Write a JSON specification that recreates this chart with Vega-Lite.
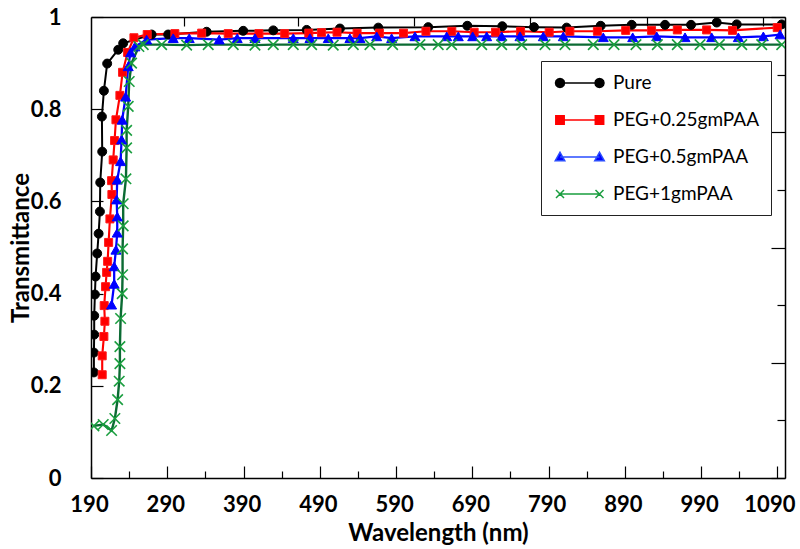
{
  "$schema": "https://vega.github.io/schema/vega-lite/v6.json",
  "autosize": {"type": "none"},
  "width": 694,
  "height": 461,
  "padding": {"left": 91, "top": 17, "right": 15, "bottom": 71},
  "background": "white",
  "config": {
    "view": {"stroke": null},
    "axis": {"grid": false, "domainColor": "#000", "domainWidth": 1.5, "tickColor": "#000", "tickWidth": 1.2,
      "labelFont": "Lato", "labelFontWeight": "bold", "labelFontSize": 22, "labelColor": "#000",
      "titleFont": "Lato", "titleFontWeight": "bold", "titleFontSize": 24, "titleColor": "#000"},
    "legend": {"labelFont": "Lato", "labelFontSize": 19, "labelColor": "#000", "strokeColor": "#222",
      "padding": 11, "rowPadding": 16, "symbolSize": 400, "symbolStrokeWidth": 1.5, "labelOffset": 39, "labelLimit": 400}
  },
  "data": {"values": [
    {"s":"Pure","w":193.8,"t":0.229},{"s":"Pure","w":193.8,"t":0.272},{"s":"Pure","w":194.2,"t":0.311},{"s":"Pure","w":194.2,"t":0.352},
    {"s":"Pure","w":195.1,"t":0.398},{"s":"Pure","w":196.0,"t":0.437},{"s":"Pure","w":198.1,"t":0.487},{"s":"Pure","w":200.0,"t":0.530},
    {"s":"Pure","w":201.7,"t":0.578},{"s":"Pure","w":202.1,"t":0.641},{"s":"Pure","w":204.7,"t":0.708},{"s":"Pure","w":204.3,"t":0.784},
    {"s":"Pure","w":206.9,"t":0.840},{"s":"Pure","w":211.2,"t":0.899},{"s":"Pure","w":225.7,"t":0.929},{"s":"Pure","w":232.2,"t":0.943},
    {"s":"Pure","w":269.5,"t":0.962},{"s":"Pure","w":291.2,"t":0.962},{"s":"Pure","w":341.6,"t":0.968},{"s":"Pure","w":389.6,"t":0.970},
    {"s":"Pure","w":429.0,"t":0.971},{"s":"Pure","w":472.8,"t":0.972},{"s":"Pure","w":516.4,"t":0.975},{"s":"Pure","w":566.7,"t":0.977},
    {"s":"Pure","w":632.2,"t":0.978},{"s":"Pure","w":683.4,"t":0.981},{"s":"Pure","w":729.3,"t":0.980},{"s":"Pure","w":770.9,"t":0.978},
    {"s":"Pure","w":813.7,"t":0.977},{"s":"Pure","w":858.3,"t":0.981},{"s":"Pure","w":899.0,"t":0.983},{"s":"Pure","w":942.7,"t":0.983},
    {"s":"Pure","w":976.8,"t":0.983},{"s":"Pure","w":1010.5,"t":0.988},{"s":"Pure","w":1036.7,"t":0.984},{"s":"Pure","w":1095.7,"t":0.984},

    {"s":"PEG+0.25gmPAA","w":204.7,"t":0.224},{"s":"PEG+0.25gmPAA","w":204.7,"t":0.265},{"s":"PEG+0.25gmPAA","w":206.9,"t":0.307},
    {"s":"PEG+0.25gmPAA","w":208.2,"t":0.340},{"s":"PEG+0.25gmPAA","w":207.3,"t":0.374},{"s":"PEG+0.25gmPAA","w":209.1,"t":0.415},
    {"s":"PEG+0.25gmPAA","w":210.5,"t":0.446},{"s":"PEG+0.25gmPAA","w":211.8,"t":0.470},{"s":"PEG+0.25gmPAA","w":213.1,"t":0.511},
    {"s":"PEG+0.25gmPAA","w":214.8,"t":0.562},{"s":"PEG+0.25gmPAA","w":217.4,"t":0.615},{"s":"PEG+0.25gmPAA","w":217.0,"t":0.645},
    {"s":"PEG+0.25gmPAA","w":219.1,"t":0.690},{"s":"PEG+0.25gmPAA","w":220.9,"t":0.732},{"s":"PEG+0.25gmPAA","w":222.7,"t":0.777},
    {"s":"PEG+0.25gmPAA","w":227.9,"t":0.830},{"s":"PEG+0.25gmPAA","w":231.4,"t":0.880},{"s":"PEG+0.25gmPAA","w":238.0,"t":0.923},
    {"s":"PEG+0.25gmPAA","w":246.3,"t":0.955},{"s":"PEG+0.25gmPAA","w":263.7,"t":0.962},{"s":"PEG+0.25gmPAA","w":300.0,"t":0.964},
    {"s":"PEG+0.25gmPAA","w":335.1,"t":0.965},{"s":"PEG+0.25gmPAA","w":369.9,"t":0.964},{"s":"PEG+0.25gmPAA","w":410.2,"t":0.964},
    {"s":"PEG+0.25gmPAA","w":444.0,"t":0.964},{"s":"PEG+0.25gmPAA","w":475.6,"t":0.965},{"s":"PEG+0.25gmPAA","w":492.3,"t":0.966},
    {"s":"PEG+0.25gmPAA","w":512.6,"t":0.967},{"s":"PEG+0.25gmPAA","w":538.9,"t":0.965},{"s":"PEG+0.25gmPAA","w":568.2,"t":0.965},
    {"s":"PEG+0.25gmPAA","w":599.8,"t":0.965},{"s":"PEG+0.25gmPAA","w":629.2,"t":0.969},{"s":"PEG+0.25gmPAA","w":663.1,"t":0.969},
    {"s":"PEG+0.25gmPAA","w":692.4,"t":0.967},{"s":"PEG+0.25gmPAA","w":720.4,"t":0.967},{"s":"PEG+0.25gmPAA","w":753.3,"t":0.969},
    {"s":"PEG+0.25gmPAA","w":790.8,"t":0.967},{"s":"PEG+0.25gmPAA","w":817.9,"t":0.969},{"s":"PEG+0.25gmPAA","w":854.0,"t":0.969},
    {"s":"PEG+0.25gmPAA","w":891.1,"t":0.971},{"s":"PEG+0.25gmPAA","w":925.0,"t":0.971},{"s":"PEG+0.25gmPAA","w":958.8,"t":0.972},
    {"s":"PEG+0.25gmPAA","w":997.2,"t":0.972},{"s":"PEG+0.25gmPAA","w":1031.1,"t":0.971},{"s":"PEG+0.25gmPAA","w":1089.8,"t":0.977},

    {"s":"PEG+0.5gmPAA","w":217.0,"t":0.376},{"s":"PEG+0.5gmPAA","w":220.4,"t":0.421},{"s":"PEG+0.5gmPAA","w":220.4,"t":0.459},
    {"s":"PEG+0.5gmPAA","w":222.7,"t":0.495},{"s":"PEG+0.5gmPAA","w":224.4,"t":0.532},{"s":"PEG+0.5gmPAA","w":224.4,"t":0.567},
    {"s":"PEG+0.5gmPAA","w":223.6,"t":0.604},{"s":"PEG+0.5gmPAA","w":224.4,"t":0.647},{"s":"PEG+0.5gmPAA","w":228.8,"t":0.687},
    {"s":"PEG+0.5gmPAA","w":230.1,"t":0.734},{"s":"PEG+0.5gmPAA","w":230.9,"t":0.777},{"s":"PEG+0.5gmPAA","w":235.4,"t":0.827},
    {"s":"PEG+0.5gmPAA","w":238.8,"t":0.893},{"s":"PEG+0.5gmPAA","w":241.9,"t":0.923},{"s":"PEG+0.5gmPAA","w":247.6,"t":0.936},
    {"s":"PEG+0.5gmPAA","w":262.9,"t":0.951},{"s":"PEG+0.5gmPAA","w":297.8,"t":0.954},{"s":"PEG+0.5gmPAA","w":318.8,"t":0.954},
    {"s":"PEG+0.5gmPAA","w":358.1,"t":0.951},{"s":"PEG+0.5gmPAA","w":381.7,"t":0.954},{"s":"PEG+0.5gmPAA","w":405.0,"t":0.954},
    {"s":"PEG+0.5gmPAA","w":455.2,"t":0.954},{"s":"PEG+0.5gmPAA","w":477.1,"t":0.954},{"s":"PEG+0.5gmPAA","w":501.1,"t":0.954},
    {"s":"PEG+0.5gmPAA","w":529.5,"t":0.954},{"s":"PEG+0.5gmPAA","w":542.7,"t":0.954},{"s":"PEG+0.5gmPAA","w":564.6,"t":0.958},
    {"s":"PEG+0.5gmPAA","w":584.2,"t":0.954},{"s":"PEG+0.5gmPAA","w":614.8,"t":0.958},{"s":"PEG+0.5gmPAA","w":656.4,"t":0.958},
    {"s":"PEG+0.5gmPAA","w":671.6,"t":0.958},{"s":"PEG+0.5gmPAA","w":690.5,"t":0.958},{"s":"PEG+0.5gmPAA","w":708.8,"t":0.958},
    {"s":"PEG+0.5gmPAA","w":728.5,"t":0.958},{"s":"PEG+0.5gmPAA","w":752.5,"t":0.958},{"s":"PEG+0.5gmPAA","w":783.1,"t":0.958},
    {"s":"PEG+0.5gmPAA","w":809.3,"t":0.958},{"s":"PEG+0.5gmPAA","w":861.7,"t":0.956},{"s":"PEG+0.5gmPAA","w":900.3,"t":0.956},
    {"s":"PEG+0.5gmPAA","w":931.8,"t":0.958},{"s":"PEG+0.5gmPAA","w":968.9,"t":0.956},{"s":"PEG+0.5gmPAA","w":1003.9,"t":0.956},
    {"s":"PEG+0.5gmPAA","w":1038.8,"t":0.956},{"s":"PEG+0.5gmPAA","w":1071.6,"t":0.958},{"s":"PEG+0.5gmPAA","w":1093.5,"t":0.962},

    {"s":"PEG+1gmPAA","w":193.8,"t":0.113},{"s":"PEG+1gmPAA","w":206.0,"t":0.116},{"s":"PEG+1gmPAA","w":217.0,"t":0.103},
    {"s":"PEG+1gmPAA","w":221.3,"t":0.129},{"s":"PEG+1gmPAA","w":224.9,"t":0.170},{"s":"PEG+1gmPAA","w":227.0,"t":0.210},
    {"s":"PEG+1gmPAA","w":227.9,"t":0.248},{"s":"PEG+1gmPAA","w":227.9,"t":0.285},{"s":"PEG+1gmPAA","w":228.8,"t":0.346},
    {"s":"PEG+1gmPAA","w":230.9,"t":0.400},{"s":"PEG+1gmPAA","w":231.4,"t":0.441},{"s":"PEG+1gmPAA","w":231.4,"t":0.497},
    {"s":"PEG+1gmPAA","w":232.2,"t":0.547},{"s":"PEG+1gmPAA","w":232.2,"t":0.595},{"s":"PEG+1gmPAA","w":235.8,"t":0.649},
    {"s":"PEG+1gmPAA","w":236.7,"t":0.716},{"s":"PEG+1gmPAA","w":236.7,"t":0.754},{"s":"PEG+1gmPAA","w":238.8,"t":0.806},
    {"s":"PEG+1gmPAA","w":240.1,"t":0.860},{"s":"PEG+1gmPAA","w":243.2,"t":0.900},{"s":"PEG+1gmPAA","w":252.8,"t":0.936},
    {"s":"PEG+1gmPAA","w":258.5,"t":0.940},{"s":"PEG+1gmPAA","w":282.6,"t":0.940},{"s":"PEG+1gmPAA","w":315.4,"t":0.939},
    {"s":"PEG+1gmPAA","w":343.7,"t":0.940},{"s":"PEG+1gmPAA","w":376.5,"t":0.940},{"s":"PEG+1gmPAA","w":405.0,"t":0.939},
    {"s":"PEG+1gmPAA","w":429.0,"t":0.940},{"s":"PEG+1gmPAA","w":455.2,"t":0.940},{"s":"PEG+1gmPAA","w":479.3,"t":0.940},
    {"s":"PEG+1gmPAA","w":507.6,"t":0.939},{"s":"PEG+1gmPAA","w":533.9,"t":0.940},{"s":"PEG+1gmPAA","w":555.8,"t":0.940},
    {"s":"PEG+1gmPAA","w":585.5,"t":0.940},{"s":"PEG+1gmPAA","w":621.3,"t":0.940},{"s":"PEG+1gmPAA","w":645.3,"t":0.940},
    {"s":"PEG+1gmPAA","w":662.9,"t":0.940},{"s":"PEG+1gmPAA","w":702.3,"t":0.940},{"s":"PEG+1gmPAA","w":728.5,"t":0.940},
    {"s":"PEG+1gmPAA","w":754.7,"t":0.940},{"s":"PEG+1gmPAA","w":785.3,"t":0.940},{"s":"PEG+1gmPAA","w":811.5,"t":0.940},
    {"s":"PEG+1gmPAA","w":848.6,"t":0.940},{"s":"PEG+1gmPAA","w":875.8,"t":0.940},{"s":"PEG+1gmPAA","w":904.6,"t":0.940},
    {"s":"PEG+1gmPAA","w":932.6,"t":0.940},{"s":"PEG+1gmPAA","w":958.8,"t":0.940},{"s":"PEG+1gmPAA","w":988.6,"t":0.940},
    {"s":"PEG+1gmPAA","w":1013.9,"t":0.940},{"s":"PEG+1gmPAA","w":1043.3,"t":0.940},{"s":"PEG+1gmPAA","w":1069.5,"t":0.940},
    {"s":"PEG+1gmPAA","w":1095.7,"t":0.940}
  ]},
  "layer": [
    {
      "mark": {"type": "line", "clip": true},
      "encoding": {
        "x": {"field": "w", "type": "quantitative", "scale": {"domain": [190, 1100], "nice": false, "zero": false},
          "axis": {"orient": "bottom", "title": "Wavelength (nm)", "values": [190,240,290,340,390,440,490,540,590,640,690,740,790,840,890,940,990,1040,1090],
            "format": "d", "labelExpr": "datum.value % 100 === 90 ? datum.label : ''", "labelOverlap": false, "labelFlush": false,
            "labelOffset": {"condition": {"test": "datum.value === 1090", "value": -8}, "value": -2},
            "tickSize": {"condition": {"test": "datum.value % 100 === 90", "value": -12}, "value": -7}, "labelPadding": 28, "titlePadding": 1}},
        "y": {"field": "t", "type": "quantitative", "scale": {"domain": [0, 1], "nice": false, "zero": false},
          "axis": {"orient": "left", "title": "Transmittance", "values": [0,0.2,0.4,0.6,0.8,1], "format": ".1~f", "tickSize": -12, "labelPadding": 42, "titlePadding": -3}},
        "color": {"field": "s", "type": "nominal", "legend": null,
          "scale": {"domain": ["PEG+1gmPAA","PEG+0.5gmPAA","PEG+0.25gmPAA","Pure"], "range": ["#0b6b33","#0000ff","#ff0000","#000000"]}},
        "strokeWidth": {"field": "s", "type": "nominal", "legend": null,
          "scale": {"domain": ["PEG+1gmPAA","PEG+0.5gmPAA","PEG+0.25gmPAA","Pure"], "range": [2.4, 2, 1.4, 1]}},
        "order": {"value": null}
      }
    },
    {
      "transform": [{"filter": "datum.s === 'Pure'"}],
      "mark": {"type": "point", "shape": "circle", "filled": true, "fill": "#000000", "stroke": "#000000", "strokeWidth": 1, "size": 80, "opacity": 1, "clip": true},
      "encoding": {
        "x": {"field": "w", "type": "quantitative", "scale": {"domain": [190, 1100], "nice": false, "zero": false},
          "axis": {"orient": "top", "title": null, "labels": false, "values": [312,462,614,766,919,1071], "tickSize": -9}},
        "y": {"field": "t", "type": "quantitative", "scale": {"domain": [0, 1], "nice": false, "zero": false},
          "axis": {"orient": "right", "title": null, "labels": false, "values": [0,0.125,0.25,0.375,0.5,0.625,0.75,0.875,1],
            "tickSize": {"condition": {"test": "datum.value * 4 === round(datum.value * 4)", "value": -14}, "value": -8}}}
      }
    },
    {
      "transform": [{"filter": "datum.s === 'PEG+0.25gmPAA'"}],
      "mark": {"type": "point", "shape": "square", "filled": true, "fill": "#ff0000", "stroke": "#ff1a1a", "strokeWidth": 1, "size": 64, "opacity": 1, "clip": true},
      "encoding": {
        "x": {"field": "w", "type": "quantitative", "axis": null},
        "y": {"field": "t", "type": "quantitative", "axis": null}
      }
    },
    {
      "transform": [{"filter": "datum.s === 'PEG+0.5gmPAA'"}],
      "mark": {"type": "point", "shape": "triangle-up", "filled": true, "fill": "#0000ff", "stroke": "#0000ff", "strokeWidth": 1, "size": 100, "opacity": 1, "clip": true},
      "encoding": {
        "x": {"field": "w", "type": "quantitative", "axis": null},
        "y": {"field": "t", "type": "quantitative", "axis": null}
      }
    },
    {
      "transform": [{"filter": "datum.s === 'PEG+1gmPAA'"}],
      "mark": {"type": "point", "shape": "M-1,-1L1,1M-1,1L1,-1", "filled": false, "stroke": "#1a9e3f", "strokeWidth": 1.6, "size": 110, "opacity": 1, "clip": true},
      "encoding": {
        "x": {"field": "w", "type": "quantitative", "axis": null},
        "y": {"field": "t", "type": "quantitative", "axis": null}
      }
    },
    {
      "transform": [{"filter": "false"}],
      "mark": {"type": "point", "opacity": 1, "strokeWidth": 1.5},
      "encoding": {
        "shape": {"field": "s", "type": "nominal",
          "scale": {"domain": ["Pure","PEG+0.25gmPAA","PEG+0.5gmPAA","PEG+1gmPAA"], "range": [
            "M-0.3,0L3.65,0M0.15,0L0.09,0.225L-0.075,0.39L-0.3,0.45L-0.525,0.39L-0.69,0.225L-0.75,0L-0.69,-0.225L-0.525,-0.39L-0.3,-0.45L-0.075,-0.39L0.09,-0.225ZM4.1,0L4.04,0.225L3.875,0.39L3.65,0.45L3.425,0.39L3.26,0.225L3.2,0L3.26,-0.225L3.425,-0.39L3.65,-0.45L3.875,-0.39L4.04,-0.225Z",
            "M-0.3,0L3.65,0M-0.72,-0.42L0.12,-0.42L0.12,0.42L-0.72,0.42ZM3.23,-0.42L4.07,-0.42L4.07,0.42L3.23,0.42Z",
            "M-0.3,0L3.65,0M-0.78,0.38L-0.3,-0.48L0.18,0.38ZM3.17,0.38L3.65,-0.48L4.13,0.38Z",
            "M-0.3,0L3.65,0M-0.7,-0.4L0.1,0.4M-0.7,0.4L0.1,-0.4M3.25,-0.4L4.05,0.4M3.25,0.4L4.05,-0.4"]},
          "legend": {"title": null, "orient": "none", "legendX": 450, "legendY": 44}},
        "fill": {"field": "s", "type": "nominal",
          "scale": {"domain": ["Pure","PEG+0.25gmPAA","PEG+0.5gmPAA","PEG+1gmPAA"], "range": ["#000000","#ff0000","#0000ff","transparent"]},
          "legend": {"title": null, "orient": "none", "legendX": 450, "legendY": 44}},
        "stroke": {"field": "s", "type": "nominal",
          "scale": {"domain": ["Pure","PEG+0.25gmPAA","PEG+0.5gmPAA","PEG+1gmPAA"], "range": ["#000000","#ff0000","#2a4dff","#1a9e3f"]},
          "legend": {"title": null, "orient": "none", "legendX": 450, "legendY": 44}}
      }
    }
  ],
  "resolve": {"axis": {"x": "independent", "y": "independent"}}
}
